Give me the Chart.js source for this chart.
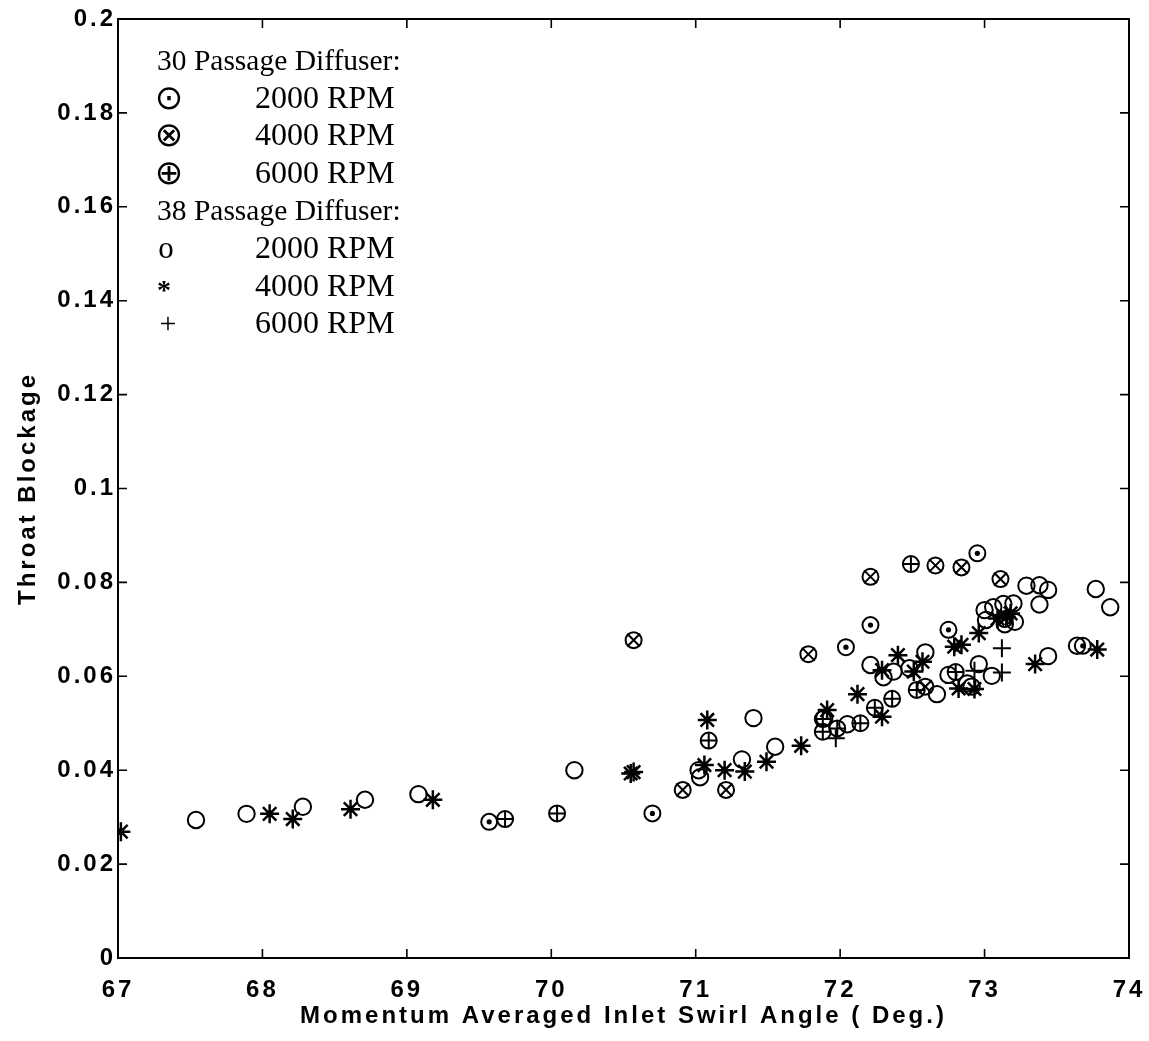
<!DOCTYPE html>
<html>
<head>
<meta charset="utf-8">
<script src="https://cdn.jsdelivr.net/npm/chart.js@4.4.1/dist/chart.umd.min.js"></script>
<style>
html,body{margin:0;padding:0;background:#fff;}
#wrap{position:relative;width:1149px;height:1041px;}
</style>
</head>
<body>
<div id="wrap"><canvas id="c" width="1149" height="1041"></canvas></div>
<script>
// ---- Tick labels ----
const xTickLabels = ['67','68','69','70','71','72','73','74'];
const yTickLabels = ['0','0.02','0.04','0.06','0.08','0.1','0.12','0.14','0.16','0.18','0.2'];

// ---- 30 Passage Diffuser ----
const p30_2000_x = [69.57, 70.70, 72.04, 72.21, 72.75, 72.95, 73.68];
const p30_2000_y = [0.0290, 0.0308, 0.0662, 0.0709, 0.0699, 0.0862, 0.0665];

const p30_4000_x = [70.57, 70.91, 71.21, 71.78, 72.21, 72.59, 72.66, 72.84, 73.11, 73.14];
const p30_4000_y = [0.0677, 0.0358, 0.0358, 0.0647, 0.0812, 0.0578, 0.0836, 0.0832, 0.0807, 0.0722];

const p30_6000_x = [69.68, 70.04, 71.09, 71.88, 71.88, 71.98, 72.14, 72.24, 72.36, 72.49, 72.53, 72.80];
const p30_6000_y = [0.0296, 0.0308, 0.0463, 0.0509, 0.0482, 0.0489, 0.0500, 0.0533, 0.0552, 0.0839, 0.0571, 0.0609];

// ---- 38 Passage Diffuser ----
const p38_2000_x = [67.54, 67.89, 68.28, 68.71, 69.08, 70.16, 71.02, 71.03, 71.32, 71.40, 71.55, 71.89, 72.05, 72.21,
                    72.30, 72.37, 72.48, 72.59, 72.67, 72.75, 72.88, 72.91, 72.96, 73.05, 73.00, 73.06, 73.13, 73.20,
                    73.01, 73.14, 73.21, 73.29, 73.38, 73.44, 73.38, 73.44, 73.64, 73.77, 73.87];
const p38_2000_y = [0.0294, 0.0307, 0.0322, 0.0337, 0.0349, 0.0400, 0.0400, 0.0385, 0.0423, 0.0511, 0.0450, 0.0511, 0.0498, 0.0624,
                    0.0598, 0.0610, 0.0617, 0.0651, 0.0562, 0.0603, 0.0585, 0.0578, 0.0626, 0.0601, 0.0741, 0.0747, 0.0754, 0.0755,
                    0.0720, 0.0711, 0.0716, 0.0793, 0.0794, 0.0784, 0.0753, 0.0643, 0.0665, 0.0786, 0.0747];

const p38_4000_x = [67.02, 68.05, 68.21, 68.61, 69.18, 70.55, 70.57, 71.06, 71.08, 71.20, 71.34, 71.49, 71.73, 71.91, 72.12,
                    72.29, 72.29, 72.40, 72.51, 72.57, 72.79, 72.84, 72.82, 72.93, 72.96, 73.09, 73.15, 73.18, 73.35, 73.78];
const p38_4000_y = [0.0269, 0.0307, 0.0296, 0.0317, 0.0337, 0.0393, 0.0396, 0.0411, 0.0507, 0.0400, 0.0397, 0.0418, 0.0452, 0.0528, 0.0562,
                    0.0613, 0.0514, 0.0645, 0.0610, 0.0631, 0.0663, 0.0667, 0.0574, 0.0573, 0.0692, 0.0723, 0.0727, 0.0734, 0.0626, 0.0657];

const p38_6000_x = [71.97, 72.93, 73.12, 73.12];
const p38_6000_y = [0.0468, 0.0612, 0.0608, 0.0660];

// ---- Legend text ----
const legendLines = [
  {sym: '', text: '30 Passage Diffuser:'},
  {sym: '\u2299', text: '2000 RPM'},
  {sym: '\u2297', text: '4000 RPM'},
  {sym: '\u2295', text: '6000 RPM'},
  {sym: '', text: '38 Passage Diffuser:'},
  {sym: 'o', text: '2000 RPM'},
  {sym: '*', text: '4000 RPM'},
  {sym: '+', text: '6000 RPM'}
];

function pts(xs, ys) { return xs.map((x, i) => ({x: x, y: ys[i]})); }

const BLACK = '#000';
const NONE = 'rgba(0,0,0,0)';
const LW = 2;

function ds(xs, ys, style, r, fill, lw) {
  return {
    data: pts(xs, ys),
    pointStyle: style,
    pointRadius: r,
    pointHoverRadius: r,
    pointBorderColor: BLACK,
    pointBackgroundColor: fill ? BLACK : NONE,
    pointBorderWidth: fill ? 0 : (lw || LW),
    showLine: false
  };
}

const datasets = [
  ds(p30_2000_x, p30_2000_y, 'circle', 8, false),
  ds(p30_2000_x, p30_2000_y, 'circle', 2.6, true),
  ds(p30_4000_x, p30_4000_y, 'circle', 8, false),
  ds(p30_4000_x, p30_4000_y, 'crossRot', 9, false),
  ds(p30_6000_x, p30_6000_y, 'circle', 8, false),
  ds(p30_6000_x, p30_6000_y, 'cross', 8, false),
  ds(p38_2000_x, p38_2000_y, 'circle', 8.2, false),
  ds(p38_4000_x, p38_4000_y, 'star', 9.5, false, 2.5),
  ds(p38_6000_x, p38_6000_y, 'cross', 9, false)
];

const SANS = "'Liberation Sans', Arial, Helvetica, sans-serif";
const SERIF = "'Liberation Serif', 'Times New Roman', 'DejaVu Serif', serif";

const framePlugin = {
  id: 'frame',
  beforeDraw(chart) {
    chart.ctx.letterSpacing = '3px';
  },
  afterDraw(chart) {
    const ctx = chart.ctx;
    const a = chart.chartArea;
    const xs = chart.scales.x, ys = chart.scales.y;
    ctx.save();
    ctx.letterSpacing = '0px';
    ctx.strokeStyle = BLACK;
    ctx.lineWidth = 2;
    ctx.strokeRect(a.left, a.top, a.right - a.left, a.bottom - a.top);
    ctx.lineWidth = 1.6;
    const TL = 9;
    ctx.beginPath();
    xs.ticks.forEach(t => {
      const px = xs.getPixelForValue(t.value);
      ctx.moveTo(px, a.bottom); ctx.lineTo(px, a.bottom - TL);
      ctx.moveTo(px, a.top); ctx.lineTo(px, a.top + TL);
    });
    ys.ticks.forEach(t => {
      const py = ys.getPixelForValue(t.value);
      ctx.moveTo(a.left, py); ctx.lineTo(a.left + TL, py);
      ctx.moveTo(a.right, py); ctx.lineTo(a.right - TL, py);
    });
    ctx.stroke();

    // legend
    ctx.fillStyle = BLACK;
    ctx.textBaseline = 'alphabetic';
    const baseY = 70, step = 37.6;
    legendLines.forEach((ln, i) => {
      const y = baseY + i * step;
      if (ln.sym === '') {
        ctx.font = '29.5px ' + SERIF;
        ctx.textAlign = 'left';
        ctx.fillText(ln.text, 157, y);
      } else {
        ctx.textAlign = 'center';
        if (ln.sym === '*') {
          ctx.font = 'bold 28px ' + SERIF;
          ctx.fillText(ln.sym, 164, y + 3);
        } else if (ln.sym === 'o') {
          ctx.font = '31px ' + SERIF;
          ctx.fillText(ln.sym, 166, y);
        } else if (ln.sym === '+') {
          ctx.font = '30px ' + SERIF;
          ctx.fillText(ln.sym, 168, y);
        } else {
          ctx.font = '34px "DejaVu Sans", sans-serif';
          ctx.fillText(ln.sym, 169, y + 1);
        }
        ctx.font = '32px ' + SERIF;
        ctx.textAlign = 'left';
        ctx.fillText(ln.text, 255, y);
      }
    });
    ctx.restore();
  }
};

new Chart(document.getElementById('c'), {
  type: 'scatter',
  data: { datasets: datasets },
  options: {
    responsive: false,
    animation: false,
    events: [],
    devicePixelRatio: 1,
    layout: { padding: { top: 19, right: 20, left: 0, bottom: 0 } },
    plugins: { legend: { display: false }, tooltip: { enabled: false } },
    scales: {
      x: {
        type: 'linear',
        min: 67, max: 74,
        afterFit: (s) => { s.height = 83; },
        grid: { display: false, drawTicks: true, tickLength: 18 },
        border: { display: false },
        ticks: {
          stepSize: 1,
          autoSkip: false,
          maxRotation: 0,
          padding: 0,
          color: BLACK,
          font: { family: SANS, weight: 'bold', size: 24 },
          callback: (v, i) => xTickLabels[i]
        },
        title: {
          display: true,
          text: 'Momentum Averaged Inlet Swirl Angle ( Deg.)',
          color: BLACK,
          font: { family: SANS, weight: 'bold', size: 24 },
          padding: { top: 0, bottom: 10 }
        }
      },
      y: {
        type: 'linear',
        min: 0, max: 0.2,
        afterFit: (s) => { s.width = 118; },
        grid: { display: false, drawTicks: true, tickLength: 2 },
        border: { display: false },
        ticks: {
          stepSize: 0.02,
          autoSkip: false,
          padding: 0,
          color: BLACK,
          font: { family: SANS, weight: 'bold', size: 24 },
          callback: (v, i) => yTickLabels[i]
        },
        title: {
          display: true,
          text: 'Throat Blockage',
          color: BLACK,
          font: { family: SANS, weight: 'bold', size: 24 },
          padding: { top: 14, bottom: 0 }
        }
      }
    }
  },
  plugins: [framePlugin]
});
</script>
</body>
</html>
